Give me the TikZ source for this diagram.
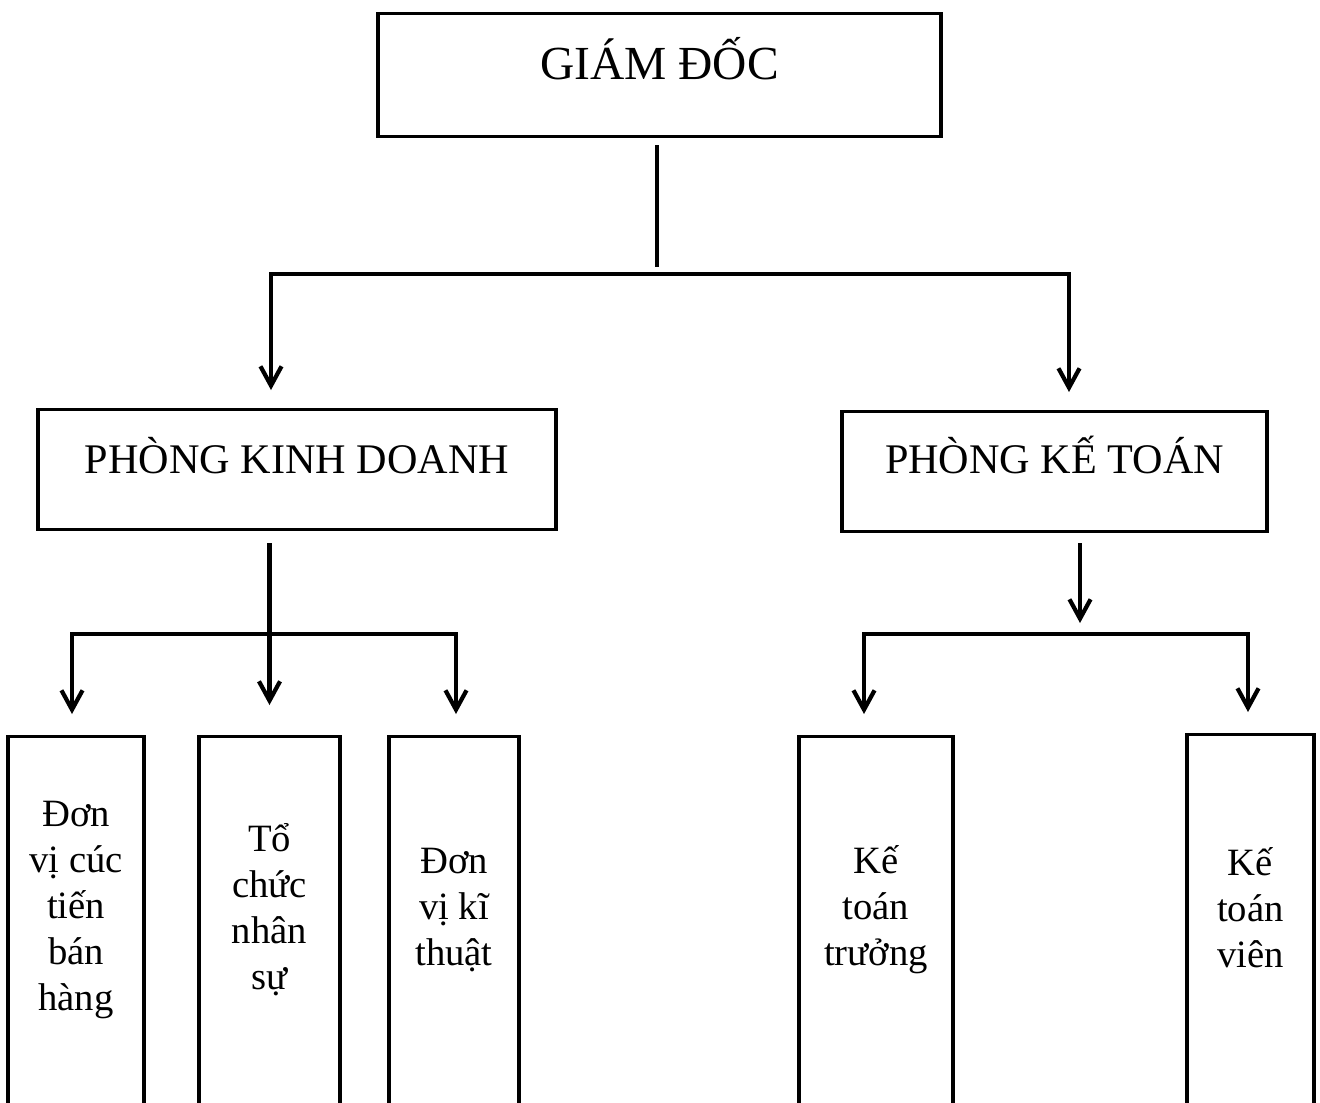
\documentclass[tikz,border=0pt]{standalone}
\usepackage{fontspec}
\setmainfont{Liberation Serif}
\usetikzlibrary{arrows.meta}

\begin{document}
\begin{tikzpicture}[x=1cm,y=1cm,>={Straight Barb[length=5.5pt,width=6pt]},
  box/.style={draw,line width=0.9pt,inner xsep=0pt,inner ysep=0pt,anchor=north,font=\fontsize{12}{14}\selectfont},
  unit/.style={draw,line width=0.9pt,minimum height=4.4cm,anchor=north},
  unittext/.style={align=center,font=\fontsize{11}{13.1}\selectfont,yshift=4.7mm},
  link/.style={line width=1.2pt,line cap=rect},
  arrow/.style={line width=1.2pt,->}]
  \useasboundingbox (0,0) rectangle (13.2,-11.02);
  \clip (0,0) rectangle (13.2,-11.02);

  \node[box,minimum width=5.63cm,text height=6.6mm,text depth=5.7mm,font=\fontsize{13.5}{16}\selectfont] (gd) at (6.595,-0.12) {GIÁM ĐỐC};
  \node[box,minimum width=5.18cm,text height=6.4mm,text depth=5.6mm] (pkd) at (2.97,-4.08) {PHÒNG KINH DOANH};
  \node[box,minimum width=4.25cm,text height=6.2mm,text depth=5.8mm] (pkt) at (10.545,-4.10) {PHÒNG KẾ TOÁN};

  \node[unit,minimum width=1.36cm,label={[unittext]center:Đơn\\vị cúc\\tiến\\bán\\hàng}] (u1) at (0.76,-7.35) {};
  \node[unit,minimum width=1.41cm,label={[unittext]center:Tổ\\chức\\nhân\\sự}] (u2) at (2.695,-7.35) {};
  \node[unit,minimum width=1.30cm,label={[unittext]center:Đơn\\vị kĩ\\thuật}] (u3) at (4.54,-7.35) {};
  \node[unit,minimum width=1.54cm,label={[unittext]center:Kế\\toán\\trưởng}] (u4) at (8.76,-7.35) {};
  \node[unit,minimum width=1.27cm,label={[unittext]center:Kế\\toán\\viên}] (u5) at (12.505,-7.33) {};

  \coordinate (gdmid) at (6.57,-2.65);
  \coordinate (gdl) at (2.71,-2.74);
  \coordinate (gdr) at (10.69,-2.74);
  \draw[link,shorten <=0.9mm] (gd.south -| gdmid) -- (gdmid);
  \draw[link] (gdl) -- (gdr);
  \draw[arrow,shorten >=1.8mm] (gdl) -- (gdl |- pkd.north);
  \draw[arrow,shorten >=1.8mm] (gdr) -- (gdr |- pkt.north);

  \coordinate (kdl) at (0.72,-6.34);
  \coordinate (kdr) at (4.56,-6.34);
  \draw[link] (kdl) -- (kdr);
  \draw[arrow,shorten >=2.1mm] (kdl) -- (kdl |- u1.north);
  \draw[arrow,shorten >=2.1mm] (kdr) -- (kdr |- u3.north);
  \draw[arrow,shorten <=1.2mm,shorten >=3mm] (pkd.south -| u2.north) -- (u2.north);

  \coordinate (ktmid) at (10.80,-6.23);
  \coordinate (ktl) at (8.64,-6.34);
  \coordinate (ktr) at (12.48,-6.34);
  \draw[arrow,shorten <=1mm] (pkt.south -| ktmid) -- (ktmid);
  \draw[link] (ktl) -- (ktr);
  \draw[arrow,shorten >=2.1mm] (ktl) -- (ktl |- u4.north);
  \draw[arrow,shorten >=2.1mm] (ktr) -- (ktr |- u5.north);
\end{tikzpicture}
\end{document}
